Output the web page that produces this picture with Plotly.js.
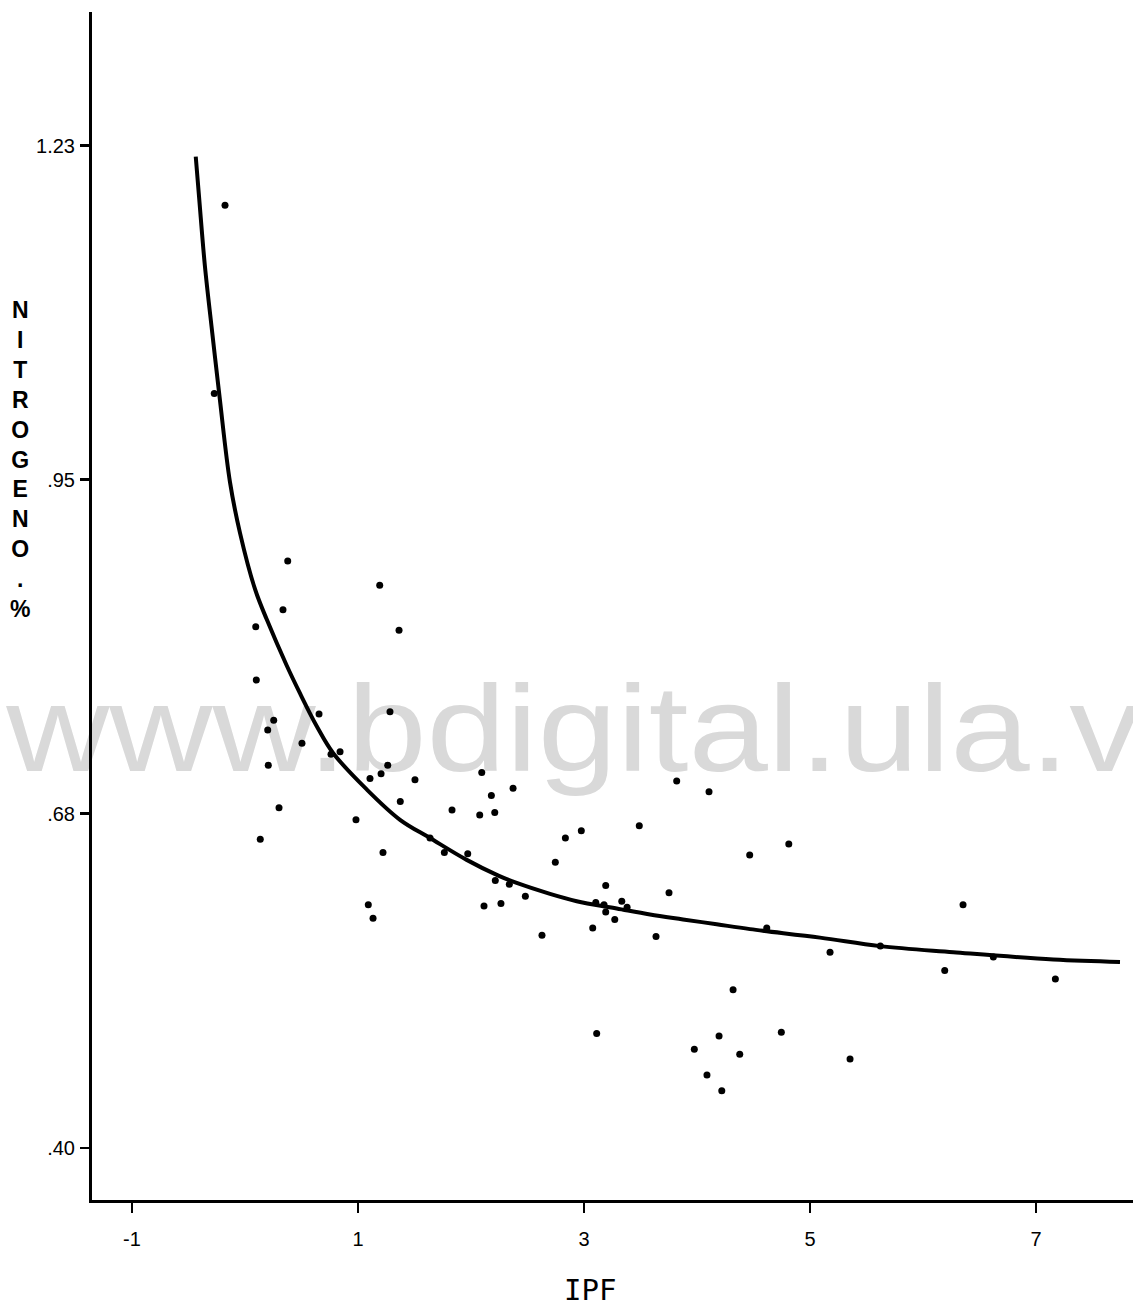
<!DOCTYPE html>
<html>
<head>
<meta charset="utf-8">
<script src="https://cdn.plot.ly/plotly-3.0.1.min.js"></script>
<style>
  html, body { margin: 0; padding: 0; background: #ffffff; }
  #chart { width: 1133px; height: 1305px; }
</style>
</head>
<body>
<div id="chart"></div>
<script>
// Observed samples: IPF index vs. nitrogen content (%)
const ipf = [
  -0.177, -0.272, 0.378, 1.192, 0.336, 0.095, 1.363, 0.100, 0.655, 1.283,
  0.254, 0.201, 0.504, 0.761, 0.841, 0.206, 1.263, 1.106, 1.204, 1.504,
  2.095, 0.301, 0.135, 0.982, 1.374, 1.221, 1.637, 1.764, 1.971, 1.832,
  2.180, 2.077, 2.210, 2.215, 2.115, 1.091, 1.133, 2.265, 2.372, 2.339,
  2.481, 2.628, 2.746, 2.835, 2.976, 3.489, 3.820, 4.106, 4.466, 3.104,
  3.192, 3.177, 3.192, 3.334, 3.381, 3.272, 3.077, 3.752, 3.637, 5.177,
  4.319, 3.112, 4.195, 4.746, 3.976, 4.378, 5.354, 4.088, 4.219, 4.812,
  4.617, 5.622, 6.354, 6.192, 6.622, 7.171
];
const nitrogen = [
  1.176, 1.021, 0.883, 0.863, 0.843, 0.829, 0.826, 0.785, 0.757, 0.759,
  0.752, 0.744, 0.733, 0.724, 0.726, 0.715, 0.715, 0.704, 0.708, 0.703,
  0.709, 0.680, 0.654, 0.670, 0.685, 0.643, 0.655, 0.643, 0.642, 0.678,
  0.690, 0.674, 0.676, 0.620, 0.599, 0.600, 0.589, 0.601, 0.696, 0.617,
  0.607, 0.575, 0.635, 0.655, 0.661, 0.665, 0.702, 0.693, 0.641, 0.602,
  0.616, 0.600, 0.594, 0.603, 0.598, 0.588, 0.581, 0.610, 0.574, 0.561,
  0.530, 0.494, 0.492, 0.495, 0.481, 0.477, 0.473, 0.460, 0.447, 0.650,
  0.581, 0.566, 0.600, 0.546, 0.557, 0.539
];

// Fitted trend curve
const fitX = [
  -0.436, -0.405, -0.355, -0.290, -0.225, -0.133, -0.044, 0.088, 0.192, 0.369,
  0.487, 0.635, 0.779, 1.077, 1.372, 1.637, 1.962, 2.242, 2.404, 2.699,
  2.935, 3.289, 3.584, 3.876, 4.174, 4.469, 5.088, 5.619, 6.268, 7.153,
  7.743
];
const fitY = [
  1.216, 1.181, 1.126, 1.071, 1.018, 0.948, 0.906, 0.860, 0.835, 0.797,
  0.774, 0.747, 0.725, 0.695, 0.670, 0.655, 0.637, 0.624, 0.618, 0.609,
  0.603, 0.597, 0.592, 0.588, 0.584, 0.580, 0.573, 0.566, 0.561, 0.555,
  0.553
];

// Axis ticks
const xTickVals = [-1, 1, 3, 5, 7];
const xTickText = ["-1", "1", "3", "5", "7"];
const yTickVals = [1.225, 0.95, 0.675, 0.40];
const yTickText = ["1.23", ".95", ".68", ".40"];

const yTitleLetters = ["N", "I", "T", "R", "O", "G", "E", "N", "O", ".", "%"];
const watermark = "www.bdigital.ula.ve";

const xRange = [-1.354, 7.858];
const yRange = [0.357, 1.335];

const traces = [
  {
    // site watermark, drawn first so the data sits on top
    x: [3.05],
    y: [0.735],
    mode: "text",
    text: [watermark],
    textposition: "middle center",
    textfont: { family: "Liberation Sans, Arial, sans-serif", size: 122, color: "#d9d9d9" },
    cliponaxis: false,
    hoverinfo: "skip",
    showlegend: false
  },
  {
    x: fitX,
    y: fitY,
    mode: "lines",
    line: { color: "#000000", width: 4, shape: "spline", smoothing: 1 },
    hoverinfo: "skip",
    showlegend: false
  },
  {
    x: ipf,
    y: nitrogen,
    mode: "markers",
    marker: { color: "#000000", size: 7 },
    showlegend: false
  }
];

const tickFont = { family: "Liberation Sans, Arial, sans-serif", size: 20, color: "#000000" };

const layout = {
  width: 1133,
  height: 1305,
  margin: { l: 92, r: 0, t: 12, b: 105 },
  paper_bgcolor: "#ffffff",
  plot_bgcolor: "#ffffff",
  showlegend: false,
  xaxis: {
    range: xRange,
    showgrid: false,
    zeroline: false,
    showline: true,
    linecolor: "#000000",
    linewidth: 3,
    ticks: "outside",
    ticklen: 10,
    tickwidth: 2.5,
    tickcolor: "#000000",
    tickvals: xTickVals,
    ticktext: xTickText,
    tickfont: tickFont,
    ticklabelstandoff: 9,
    title: { text: "" }
  },
  yaxis: {
    range: yRange,
    showgrid: false,
    zeroline: false,
    showline: true,
    linecolor: "#000000",
    linewidth: 3,
    ticks: "outside",
    ticklen: 9,
    tickwidth: 2.5,
    tickcolor: "#000000",
    tickvals: yTickVals,
    ticktext: yTickText,
    tickfont: tickFont,
    ticklabelstandoff: 1,
    title: { text: "" }
  },
  annotations: [
    {
      text: yTitleLetters.join("<br>"),
      xref: "paper", yref: "paper",
      x: -72 / 1041, y: (1200 - 460) / 1188,
      xanchor: "center", yanchor: "middle",
      showarrow: false,
      align: "center",
      font: { family: "Liberation Sans, Arial, sans-serif", size: 23, color: "#000000", weight: "bold" }
    },
    {
      text: "IPF",
      xref: "paper", yref: "paper",
      x: (590 - 92) / 1041, y: (1200 - 1290) / 1188,
      xanchor: "center", yanchor: "middle",
      showarrow: false,
      font: { family: "DejaVu Sans Mono, monospace", size: 29, color: "#000000" }
    }
  ]
};

Plotly.newPlot("chart", traces, layout, { staticPlot: true, displayModeBar: false }).then(function (gd) {
  // widen the watermark lettering and start it at the left edge of the page
  const node = gd.querySelector(".scatterlayer .trace .textpoint text");
  if (!node) return;
  const box = node.getBBox();
  const leftInPlot = 5 - layout.margin.l;
  const sx = 1.17;
  const prev = node.getAttribute("transform") || "";
  node.setAttribute("transform",
    "translate(" + leftInPlot + ",0) scale(" + sx + ",1) translate(" + (-box.x) + ",0) " + prev);
});
</script>
</body>
</html>
